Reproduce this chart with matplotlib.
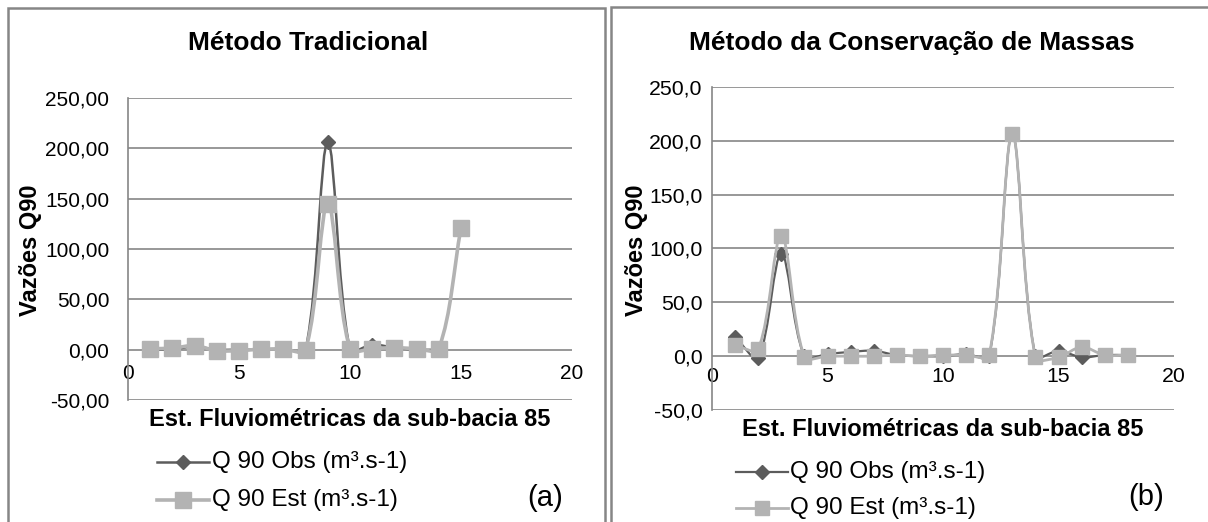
import numpy as np
import matplotlib
matplotlib.use("Agg")
import matplotlib.pyplot as plt
from matplotlib.lines import Line2D
from matplotlib.patches import Rectangle, PathPatch
from matplotlib.path import Path

plt.rcParams['font.family'] = ['Liberation Sans', 'DejaVu Sans']

# ---------------- data ----------------
x_a = [1, 2, 3, 4, 5, 6, 7, 8, 9, 10, 11, 12, 13, 14, 15]
obs_a = [0.0, 0.5, 3.0, 0.0, 0.0, 0.0, 1.0, 0.0, 206.0, 0.0, 5.0, 2.0, 0.0, 0.0, np.nan]
est_a = [1.0, 1.5, 4.0, -1.0, -1.0, 0.5, 0.5, 0.0, 145.0, 0.5, 1.0, 2.0, 1.0, 1.0, 121.0]

x_b = [1, 2, 3, 4, 5, 6, 7, 8, 9, 10, 11, 12, 13, 14, 15, 16, 17, 18]
obs_b = [18.0, -1.5, 95.0, 0.0, 2.0, 4.0, 5.0, 1.0, 0.0, 0.0, 2.0, 0.0, 206.0, 0.0, 5.0, -1.0, 1.0, 1.0]
est_b = [10.0, 6.5, 112.0, -0.5, 0.0, 0.0, 0.0, 1.0, 0.0, 1.0, 1.0, 1.0, 206.0, -1.0, -1.0, 8.5, 1.0, 1.0]

y_ticks = [-50, 0, 50, 100, 150, 200, 250]
y_labels_a = ["-50,00", "0,00", "50,00", "100,00", "150,00", "200,00", "250,00"]
y_labels_b = ["-50,0", "0,0", "50,0", "100,0", "150,0", "200,0", "250,0"]
x_ticks = [0, 5, 10, 15, 20]
x_labels = ["0", "5", "10", "15", "20"]

titles = ["Método Tradicional", "Método da Conservação de Massas"]
ylabel = "Vazões Q90"
xlabel = "Est. Fluviométricas da sub-bacia 85"
leg_labels = ["Q 90 Obs (m³.s-1)", "Q 90 Est (m³.s-1)"]
panel_tags = ["(a)", "(b)"]

# ---------------- styling ----------------
W, H = 1208, 522
fig = plt.figure(figsize=(W / 100, H / 100), dpi=100)
fig.patch.set_facecolor('white')

def fx(px):
    return px / W

def fy(py):
    return 1 - py / H

GRID = '#868686'
OBS_C = '#5c5c5c'
EST_C = '#b3b3b3'
BORDER = '#868686'


def smooth_path(xs, ys, sx, sy):
    """Excel-like smoothed line: cubic Bezier through the data points,
    tangents weighted by segment lengths measured in pixels."""
    pts = [(a * sx, b * sy) for a, b in zip(xs, ys) if not np.isnan(b)]
    P = np.array(pts, dtype=float)
    n = len(P)
    out_c = np.zeros_like(P)
    in_c = np.zeros_like(P)
    for i in range(n):
        p_prev = P[i - 1] if i > 0 else P[i]
        p_next = P[i + 1] if i < n - 1 else P[i]
        T = p_next - p_prev
        d0 = np.hypot(*(P[i] - p_prev))
        d1 = np.hypot(*(p_next - P[i]))
        tot = d0 + d1 if d0 + d1 > 0 else 1.0
        in_c[i] = P[i] - T * (d0 / tot) / 3.0
        out_c[i] = P[i] + T * (d1 / tot) / 3.0
    verts = [P[0]]
    codes = [Path.MOVETO]
    for i in range(n - 1):
        verts += [out_c[i], in_c[i + 1], P[i + 1]]
        codes += [Path.CURVE4] * 3
    V = np.array(verts)
    V[:, 0] /= sx
    V[:, 1] /= sy
    return Path(V, codes)


# panel borders
fig.add_artist(Rectangle((fx(8), fy(540)), fx(605) - fx(8), fy(8) - fy(540),
                         transform=fig.transFigure, fill=False, ec=BORDER, lw=1.8))
fig.add_artist(Rectangle((fx(611), fy(540)), fx(1230) - fx(611), fy(7) - fy(540),
                         transform=fig.transFigure, fill=False, ec=BORDER, lw=1.8))

panels = [
    dict(x=x_a, obs=obs_a, est=est_a, ylabels=y_labels_a,
         ax=(128, 572, 98, 400), ypad=13.5, xpad=10, tick_fs=15,
         title_xy=(308, 43), ylab_xy=(31, 250), xlab_xy=(350, 420),
         leg=(157, 209, 462, 500, 212), tag_xy=(545, 498),
         obs_lw=1.8, est_lw=2.6, sq=11, dm=7),
    dict(x=x_b, obs=obs_b, est=est_b, ylabels=y_labels_b,
         ax=(712, 1174, 87, 410), ypad=7.0, xpad=8.0, tick_fs=15.3,
         title_xy=(912, 43), ylab_xy=(637, 250), xlab_xy=(943, 430),
         leg=(736, 788, 472, 508, 790), tag_xy=(1146, 497),
         obs_lw=1.6, est_lw=2.0, sq=10.5, dm=7),
]

for i, p in enumerate(panels):
    x0, x1, yt, yb = p['ax']
    ax = fig.add_axes([fx(x0), fy(yb), fx(x1) - fx(x0), fy(yt) - fy(yb)])
    ax.set_xlim(0, 20)
    ax.set_ylim(-50, 250)
    ax.set_facecolor('none')
    for s in ['top', 'right']:
        ax.spines[s].set_visible(False)
    ax.spines['left'].set_color(GRID)
    ax.spines['left'].set_linewidth(1.2)
    ax.spines['bottom'].set_position(('data', 0))
    ax.spines['bottom'].set_color('none')
    ax.set_yticks(y_ticks)
    ax.set_yticklabels(p['ylabels'])
    ax.set_xticks(x_ticks)
    ax.set_xticklabels(x_labels)
    ax.tick_params(axis='y', length=0, pad=p['ypad'], labelsize=p['tick_fs'])
    ax.tick_params(axis='x', length=0, pad=p['xpad'], labelsize=p['tick_fs'])
    for yv in y_ticks:
        ax.axhline(yv, color=GRID, lw=1.2, zorder=1)

    sx = (x1 - x0) / 20.0
    sy = (yb - yt) / 300.0

    # observed (dark, diamonds) then estimated (light, squares) on top
    ax.add_patch(PathPatch(smooth_path(p['x'], p['obs'], sx, sy), fill=False, ec=OBS_C,
                           lw=p['obs_lw'], zorder=3, capstyle='round', joinstyle='round'))
    ax.plot(p['x'], p['obs'], lw=0, marker='D', markersize=p['dm'],
            markerfacecolor=OBS_C, markeredgecolor=OBS_C, zorder=3.5, clip_on=False)
    ax.add_patch(PathPatch(smooth_path(p['x'], p['est'], sx, sy), fill=False, ec=EST_C,
                           lw=p['est_lw'], zorder=4, capstyle='round', joinstyle='round'))
    ax.plot(p['x'], p['est'], lw=0, marker='s', markersize=p['sq'],
            markerfacecolor=EST_C, markeredgecolor=EST_C, zorder=4.5, clip_on=False)

    tx, ty = p['title_xy']
    fig.text(fx(tx), fy(ty), titles[i], ha='center', va='center', fontsize=19, fontweight='bold')
    lx, ly = p['ylab_xy']
    fig.text(fx(lx), fy(ly), ylabel, ha='center', va='center', rotation=90, fontsize=17, fontweight='bold')
    xx, xy = p['xlab_xy']
    fig.text(fx(xx), fy(xy), xlabel, ha='center', va='center', fontsize=17, fontweight='bold')

    lx0, lx1, ly1, ly2, ltx = p['leg']
    fig.add_artist(Line2D([fx(lx0), fx(lx1)], [fy(ly1), fy(ly1)], transform=fig.transFigure,
                          color=OBS_C, lw=p['obs_lw']))
    fig.add_artist(Line2D([fx((lx0 + lx1) / 2)], [fy(ly1)], transform=fig.transFigure,
                          marker='D', markersize=p['dm'], color=OBS_C, lw=0))
    fig.add_artist(Line2D([fx(lx0), fx(lx1)], [fy(ly2), fy(ly2)], transform=fig.transFigure,
                          color=EST_C, lw=p['est_lw']))
    fig.add_artist(Line2D([fx((lx0 + lx1) / 2)], [fy(ly2)], transform=fig.transFigure,
                          marker='s', markersize=p['sq'], color=EST_C, lw=0))
    fig.text(fx(ltx), fy(ly1), leg_labels[0], ha='left', va='center', fontsize=17.5)
    fig.text(fx(ltx), fy(ly2), leg_labels[1], ha='left', va='center', fontsize=17.5)

    gx, gy = p['tag_xy']
    fig.text(fx(gx), fy(gy), panel_tags[i], ha='center', va='center', fontsize=21)

fig.savefig('out.png', dpi=100, facecolor='white')
